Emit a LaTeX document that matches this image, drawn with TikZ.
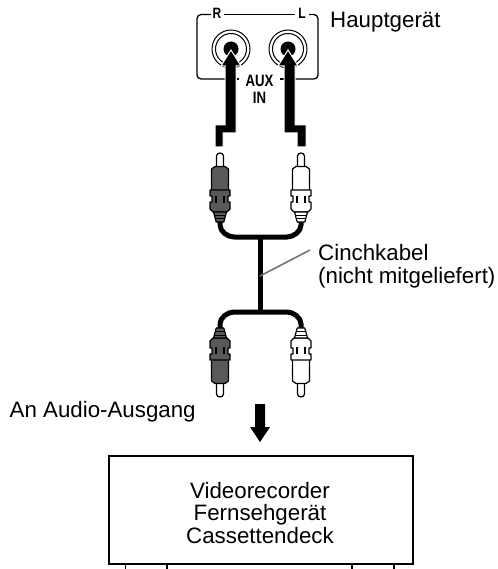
\documentclass[tikz,border=0pt]{standalone}
\usepackage{fontspec}
\setmainfont{Liberation Sans}
\setsansfont{Liberation Sans}
\tikzset{
  lbl/.style={font=\fontsize{22.3}{22.5}\selectfont,inner sep=0pt,align=left},
  boxlbl/.style={font=\fontsize{22.3}{22.5}\selectfont,inner sep=0pt,align=center},
  smallb/.style={font=\fontsize{15}{15.5}\sffamily\bfseries,inner sep=0pt,align=center,xscale=.8},
  edge/.style={draw=black,line width=1.3pt},
  plugline/.style={draw=black,line width=1.2pt,line join=round},
  cable/.style={draw=black,line width=5pt},
  bigarrow/.style={fill=black,draw=white,line width=1pt,line join=miter},
}
\begin{document}
\begin{tikzpicture}[x=1pt,y=-1pt]
\useasboundingbox (0,0) rectangle (497,569);
% panel
\draw[edge] (211,14.5) -- (201,14.5) to[out=180,in=90] (197,19) -- (197,75) to[out=-90,in=180] (201,79) -- (225,79);
\draw[edge] (224,14.5) -- (295,14.5);
\draw[edge] (309,14.5) -- (314,14.5) to[out=0,in=90] (318,19) -- (318,75) to[out=-90,in=0] (314,79) -- (293,79);
\draw[edge] (237,79) -- (239,79) (280,79) -- (284,79);
\node[smallb] (r) at (217,13) {R};
\node[smallb] (l) at (302,13) {L};
\node[smallb,font=\fontsize{16.5}{17}\sffamily\bfseries] (aux) at (259.5,89.5) {AUX\\IN};
% jacks
\foreach \n/\x in {a/231,b/288}{
  \draw[line width=1pt] (\x,49) circle (19);
  \draw[line width=1pt] (\x,49) circle (15.5);
  \fill (\x,49) circle (7.5);
}
% arrows
\path[bigarrow] (231,50) -- (241,66) -- (236,66) -- (236,133) -- (223,133) -- (223,147) -- (215,147) -- (215,125) -- (225,125) -- (225,66) -- (221,66) -- cycle;
\path[bigarrow] (288,50) -- (298,66) -- (295,66) -- (295,125) -- (306,125) -- (306,147) -- (297,147) -- (297,133) -- (284,133) -- (284,66) -- (278,66) -- cycle;
% cable
\draw[cable] (220,220) -- (220,225) to[out=-90,in=180,looseness=0.9] (234,237) -- (287,237) to[out=0,in=-90,looseness=0.9] (301,225) -- (301,220);
\draw[cable] (260,237) -- (260,312);
\draw[cable] (220,330) -- (220,324) to[out=90,in=180,looseness=0.9] (234,312) -- (287,312) to[out=0,in=90,looseness=0.9] (301,324) -- (301,330);
% plugs
\foreach \n/\x/\y/\s/\c in {tl/220/153/1/black!65,tr/301/153/1/white,bl/220/397/-1/black!65,br/301/397/-1/white}{
 \begin{scope}[shift={(\x,\y)},yscale=\s]
  \draw[plugline,fill=white] (-3.5,15) -- (-3.5,3) .. controls (-3.5,-1) and (3.5,-1) .. (3.5,3) -- (3.5,15);
  \draw[plugline,fill=\c] (-8.5,40) -- (-8.5,16) -- (-5,13.5) -- (5,13.5) -- (8.5,16) -- (8.5,40) -- cycle;
  \draw[plugline,fill=\c] (-10,37) -- (10,37) -- (10,43) -- (8,43) -- (8,49) -- (10,49) -- (10,56) -- (7,59) -- (-7,59) -- (-10,56) -- (-10,49) -- (-8,49) -- (-8,43) -- (-10,43) -- cycle;
  \draw[plugline] (-4,43) -- (-4,50) (4,43) -- (4,50);
  \draw[plugline,fill=\c] (-6.5,59) -- (-3.8,69) -- (3.8,69) -- (6.5,59) -- cycle;
  \draw[line width=1pt,draw=black] (-5.5,62) -- (5.5,62) (-5,65.5) -- (5,65.5);
 \end{scope}
}
% leader
\coordinate (cab) at (260,276);
\coordinate (lead) at (310,250);
\draw[draw=black!55,line width=1.6pt] (cab) -- (lead);
% down arrow
\fill (255,404) -- (265,404) -- (265,427) -- (270,427) -- (260,442) -- (250,427) -- (255,427) -- cycle;
% box
\node[draw=black,line width=2.3pt,minimum width=304pt,minimum height=108pt,inner sep=0pt,anchor=north west] (box) at (108,455) {};
\node[boxlbl,anchor=base] (t1) at (260,498) {Videorecorder};
\node[boxlbl,anchor=base] (t2) at (260,520.5) {Fernsehgerät};
\node[boxlbl,anchor=base] (t3) at (260,543) {Cassettendeck};
\foreach \x in {125.5,167,352,394}{\draw[line width=1.5pt] (\x,563) -- (\x,569);}
% labels
\node[lbl,anchor=base west] (h) at (330,28) {Hauptgerät};
\node[lbl,anchor=base west] (c) at (318,260.7) {Cinchkabel};
\node[lbl,anchor=base west] (c2) at (318,283) {(nicht mitgeliefert)};
\node[lbl,anchor=base west] (an) at (9.5,417.7) {An Audio-Ausgang};
\end{tikzpicture}
\end{document}
